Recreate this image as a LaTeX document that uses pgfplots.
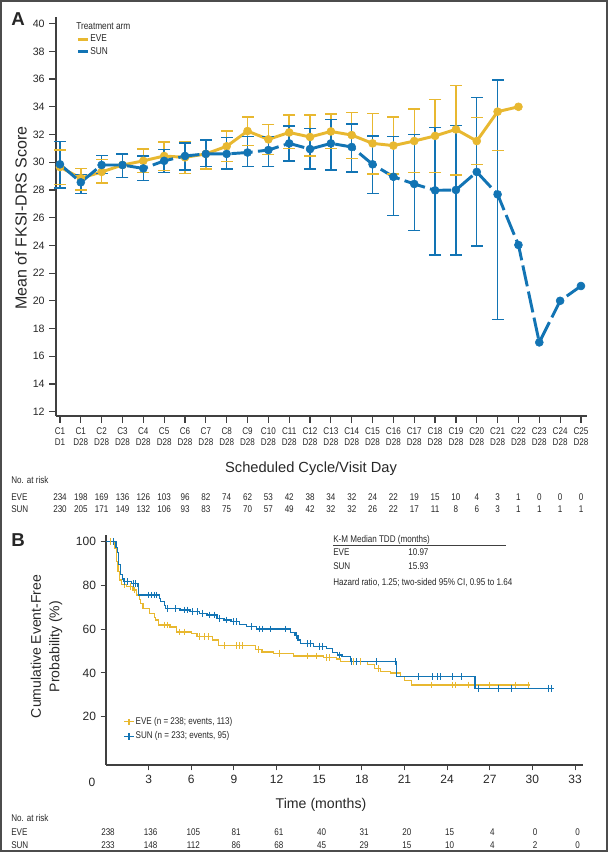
\documentclass[border=0pt]{standalone}
\usepackage{fontspec}
\setmainfont{Liberation Sans}
\newfontfamily\cond{Liberation Sans}[FakeStretch=0.83]
\usepackage{pgfplots}
\pgfplotsset{compat=1.18}
\usepackage{pgfplotstable}
\definecolor{cyel}{RGB}{232,184,48}
\definecolor{cblue}{RGB}{18,116,180}
\definecolor{txt}{RGB}{40,40,40}

\pgfplotstableread{
i m lo hi
0 29.65 28.4 30.88
1 28.85 28.0 29.55
2 29.3 28.5 30.2
3 29.8 28.9 30.6
4 30.1 29.25 30.95
5 30.45 29.4 31.45
6 30.35 29.2 31.5
7 30.6 29.5 31.65
8 31.15 30.05 32.25
9 32.25 31.2 33.25
10 31.65 30.57 32.73
11 32.15 31.0 33.4
12 31.82 30.45 33.4
13 32.22 31.0 33.47
14 31.96 30.27 33.6
15 31.36 29.15 33.53
16 31.2 29.15 33.26
17 31.53 29.27 33.84
18 31.9 29.27 34.54
19 32.37 29.08 35.55
20 31.53 29.82 33.24
21 33.65 30.83 35.93
}\eveci
\pgfplotstableread{
i m
0 29.65
1 28.85
2 29.3
3 29.8
4 30.1
5 30.45
6 30.35
7 30.6
8 31.15
9 32.25
10 31.65
11 32.15
12 31.82
13 32.22
14 31.96
15 31.36
16 31.2
17 31.53
18 31.9
19 32.37
20 31.53
21 33.65
22 34.0
}\eveline
\pgfplotstableread{
i m lo hi
0 29.85 28.15 31.5
1 28.55 27.75 29.1
2 29.8 29.2 30.5
3 29.8 28.9 30.6
4 29.55 28.7 30.45
5 30.1 29.25 30.9
6 30.45 29.45 31.4
7 30.6 29.7 31.6
8 30.6 29.5 31.8
9 30.7 29.7 31.85
10 30.88 29.7 31.85
11 31.36 30.1 32.6
12 30.95 29.5 32.45
13 31.36 29.44 33.1
14 31.1 29.3 32.76
15 29.85 27.75 31.88
16 28.95 26.14 31.85
17 28.43 25.06 32.0
18 27.97 23.3 32.5
19 28.0 23.3 32.66
20 29.3 23.95 34.66
21 27.68 18.67 35.93
}\sunci
\pgfplotstableread{
i m
0 29.85
1 28.55
2 29.8
3 29.8
4 29.55
5 30.1
6 30.45
7 30.6
8 30.6
9 30.7
10 30.88
11 31.36
12 30.95
13 31.36
14 31.1
15 29.85
16 28.95
17 28.43
18 27.97
19 28.0
20 29.3
21 27.68
22 24.03
23 17.0
24 20.0
25 21.07
}\sunline

\begin{document}
\begin{tikzpicture}[x=0.75pt,y=0.75pt]
\useasboundingbox (0,0) rectangle (608,852);
\fill[white] (0,0) rectangle (608,852);
\draw[black!70, line width=1.4pt] (0.9,0.9) rectangle (607.1,851.1);

% ---------------- Panel A ----------------
\begin{axis}[
  at={(42pt,327pt)}, anchor=south west,
  scale only axis, width=398.25pt, height=299.25pt,
  xmin=-0.19, xmax=25.29, ymin=11.69, ymax=40.48,
  axis x line*=bottom, axis y line*=left,
  axis line style={line width=1.3pt, black!75},
  xtick={0,...,25},
  xticklabels={{C1\\D1},{C1\\D28},{C2\\D28},{C3\\D28},{C4\\D28},{C5\\D28},{C6\\D28},{C7\\D28},{C8\\D28},{C9\\D28},{C10\\D28},{C11\\D28},{C12\\D28},{C13\\D28},{C14\\D28},{C15\\D28},{C16\\D28},{C17\\D28},{C18\\D28},{C19\\D28},{C20\\D28},{C21\\D28},{C22\\D28},{C23\\D28},{C24\\D28},{C25\\D28}},
  ytick={12,14,...,40},
  tick align=outside, major tick length=5pt,
  tick style={line width=0.9pt, black!75},
  xticklabel style={font=\cond\fontsize{7.3}{8.6}\selectfont, align=center, text=txt},
  yticklabel style={font=\fontsize{8}{9}\selectfont, text=txt},
  /pgf/number format/assume math mode=true,
  clip=false,
  legend style={at={(0.0377,0.958)}, anchor=north west, draw=none, fill=none,
    font=\cond\fontsize{7.5}{9}\selectfont, text=txt, inner sep=0pt, row sep=1pt,
    nodes={inner sep=0.8pt}},
  legend cell align=left,
  legend image code/.code={\draw[#1] (0pt,0pt) -- (7.5pt,0pt);},
]
\addlegendimage{cyel, line width=2.2pt}
\addlegendentry{EVE}
\addlegendimage{cblue, line width=2.2pt}
\addlegendentry{SUN}

% EVE confidence bars
\addplot[forget plot, cyel, only marks, mark=*, mark size=0.05pt,
  error bars/.cd, y dir=both, y explicit, error mark=none,
  error bar style={draw=cyel, line width=1.1pt, solid}]
  table[x=i, y=m, y error plus expr=\thisrow{hi}-\thisrow{m}, y error minus expr=\thisrow{m}-\thisrow{lo}] {\eveci};
\addplot[forget plot, only marks, mark=-, mark size=4.5pt, mark options={draw=cyel, line width=1.1pt}]
  table[x=i, y=hi] {\eveci};
\addplot[forget plot, only marks, mark=-, mark size=4.5pt, mark options={draw=cyel, line width=1.1pt}]
  table[x=i, y=lo] {\eveci};
% SUN confidence bars
\addplot[forget plot, cblue, only marks, mark=*, mark size=0.05pt,
  error bars/.cd, y dir=both, y explicit, error mark=none,
  error bar style={draw=cblue, line width=1.1pt, solid}]
  table[x=i, y=m, y error plus expr=\thisrow{hi}-\thisrow{m}, y error minus expr=\thisrow{m}-\thisrow{lo}] {\sunci};
\addplot[forget plot, only marks, mark=-, mark size=4.5pt, mark options={draw=cblue, line width=1.1pt}]
  table[x=i, y=hi] {\sunci};
\addplot[forget plot, only marks, mark=-, mark size=4.5pt, mark options={draw=cblue, line width=1.1pt}]
  table[x=i, y=lo] {\sunci};

\addplot[forget plot, cyel, line width=2.2pt, mark=*, mark size=3pt, mark options={solid, fill=cyel, line width=0.4pt}]
  table[x=i, y=m] {\eveline};
\addplot[forget plot, cblue, line width=2.2pt, dash pattern=on 16pt off 4pt, mark=*, mark size=3pt, mark options={solid, fill=cblue, line width=0.4pt}]
  table[x=i, y=m] {\sunline};
\end{axis}

% ---------------- Panel B ----------------
\begin{axis}[
  at={(79.5pt,65.25pt)}, anchor=south west,
  scale only axis, width=357.75pt, height=172.5pt,
  xmin=0, xmax=33.56, ymin=-2.1, ymax=103.1,
  axis x line*=bottom, axis y line*=left,
  axis line style={line width=1.1pt, black!75},
  xtick={3,6,...,33}, ytick={20,40,...,100},
  tick align=outside, major tick length=4pt,
  tick style={line width=0.8pt, black!75},
  ticklabel style={font=\fontsize{9}{10}\selectfont, text=txt},
  /pgf/number format/assume math mode=true,
  clip=false,
  legend style={at={(0.036,0.213)}, anchor=north west, draw=none, fill=none,
    font=\cond\fontsize{7.3}{8.5}\selectfont, text=txt, inner sep=0pt, row sep=2.5pt,
    nodes={inner sep=0.8pt}},
  legend cell align=left,
  legend image code/.code={\draw[#1] (0pt,0pt) -- (7.5pt,0pt); \draw[#1] (3.75pt,-2.5pt) -- (3.75pt,2.5pt);},
]
\addlegendimage{cyel, line width=0.9pt}
\addlegendentry{EVE (n = 238; events, 113)}
\addlegendimage{cblue, line width=0.9pt}
\addlegendentry{SUN (n = 233; events, 95)}

\addplot[forget plot, const plot, cyel, line width=1pt] coordinates {
(0,100)(0.6,97)(0.75,91)(0.85,86.5)(0.95,82.5)(1.1,80.5)(1.45,79.4)(1.9,77.9)(2.15,75.6)(2.35,73.5)(2.45,71.8)(2.6,69.5)(3.05,67.3)(3.4,65.5)(3.5,64.2)(3.7,61.9)(4.5,61)(4.95,58.8)(6.0,58.1)(6.4,56.6)(7.5,55.1)(7.9,52.5)(10.5,50.8)(10.97,49.6)(11.8,49)(13.2,47.7)(15.3,47)(16.2,46.4)(16.5,45.1)(18.4,43.9)(18.9,42.1)(19.3,40.6)(20.0,40)(20.7,38.3)(21.0,36.5)(21.5,34.5)(29.8,34.5)};
\addplot[forget plot, const plot, cblue, line width=1pt] coordinates {
(0,100)(0.7,97.5)(0.8,95)(0.9,89.5)(1.0,85)(1.15,83)(1.25,81.7)(1.8,80.9)(2.2,79.4)(2.3,75.6)(3.75,74)(3.85,72.6)(4.1,71)(4.2,69.5)(5.2,68.8)(5.9,68)(6.6,67.3)(7.1,66.5)(7.8,65)(8.3,64.2)(8.8,63.4)(9.4,62.2)(9.9,61.1)(10.6,60.1)(13.0,58.5)(13.3,57)(13.5,55)(13.7,53.5)(14.6,52.2)(15.5,51.3)(15.93,49.5)(16.3,48.2)(16.6,47.4)(17.2,45.1)(20.45,38.3)(25.95,33)(31.5,33)};
\addplot[forget plot, only marks, mark=|, mark size=2.5pt, cyel, line width=0.7pt] coordinates {
(0.3,100)(1.3,80.5)(1.7,79.4)(2.0,77.9)(4.1,61.9)(4.3,61.9)(5.2,58.8)(5.5,58.8)(6.6,56.6)(6.9,56.6)(7.2,56.6)(8.3,52.5)(9.2,52.5)(9.4,52.5)(9.6,52.5)(10.7,50.8)(12.2,49)(14.2,47.7)(14.8,47.7)(15.5,47)(15.7,47)(17.4,45.1)(17.6,45.1)(17.9,45.1)(19.2,42.1)(22.9,34.5)(24.4,34.5)(24.6,34.5)(25.5,34.5)(27.0,34.5)(28.8,34.5)(29.75,34.5)};
\addplot[forget plot, only marks, mark=|, mark size=2.5pt, cblue, line width=0.7pt] coordinates {
(0.5,100)(1.3,81.7)(1.5,81.7)(1.9,80.9)(2.05,80.9)(2.25,79.4)(3.0,75.6)(3.2,75.6)(3.4,75.6)(3.55,75.6)(4.35,69.5)(4.9,69.5)(5.5,68.8)(5.7,68.8)(6.1,68)(6.4,68)(6.8,67.3)(7.3,66.5)(7.6,66.5)(8.0,65)(8.5,64.2)(9.0,63.4)(9.2,63.4)(10.2,61.1)(10.8,60.1)(11.0,60.1)(11.6,60.1)(12.6,60.1)(13.4,57)(14.2,53.5)(14.4,53.5)(15.0,52.2)(15.2,52.2)(16.4,48.2)(17.3,45.1)(17.6,45.1)(19.0,45.1)(20.4,45.1)(22.0,38.3)(23.0,38.3)(23.3,38.3)(23.5,38.3)(24.4,38.3)(25.0,38.3)(26.2,33)(27.6,33)(28.5,33)(31.1,33)(31.35,33)};
\end{axis}

% ---------------- Texts ----------------
\node[font=\bfseries\fontsize{14}{16}\selectfont, text=black!85] at (18,832.5) {A};
\node[font=\bfseries\fontsize{14}{16}\selectfont, text=black!85] at (18,311.5) {B};
\node[rotate=90, font=\fontsize{12}{14}\selectfont, text=txt] at (21,634) {Mean of FKSI-DRS Score};
\node[font=\fontsize{11}{13}\selectfont, text=txt] at (311,383) {Scheduled Cycle/Visit Day};
\node[anchor=west, font=\cond\fontsize{7.5}{9}\selectfont, text=txt, inner sep=0pt] at (76,826) {Treatment arm};

\begin{scope}[every node/.style={font=\cond\fontsize{7.3}{8.5}\selectfont, text=txt, inner sep=0pt}]
\node[anchor=west] at (11,372) {No. at risk};
\node[anchor=west] at (11,354.5) {EVE};
\node[anchor=west] at (11,343) {SUN};
\foreach \v [count=\i from 0] in {234,198,169,136,126,103,96,82,74,62,53,42,38,34,32,24,22,19,15,10,4,3,1,0,0,0}
  \node at ({60+20.84*\i},354.5) {\v};
\foreach \v [count=\i from 0] in {230,205,171,149,132,106,93,83,75,70,57,49,42,32,32,26,22,17,11,8,6,3,1,1,1,1}
  \node at ({60+20.84*\i},343) {\v};

\node[anchor=west] at (11,34) {No. at risk};
\node[anchor=west] at (11,19.5) {EVE};
\node[anchor=west] at (11,6.5) {SUN};
\foreach \v [count=\i from 0] in {238,136,105,81,61,40,31,20,15,4,0,0}
  \node at ({108+42.7*\i},19.5) {\v};
\foreach \v [count=\i from 0] in {233,148,112,86,68,45,29,15,10,4,2,0}
  \node at ({108+42.7*\i},6.5) {\v};

\node[anchor=west] at (333,312) {K-M Median TDD (months)};
\node[anchor=west] at (333,300) {EVE};
\node[anchor=west] at (408,300) {10.97};
\node[anchor=west] at (333,286) {SUN};
\node[anchor=west] at (408,286) {15.93};
\node[anchor=west] at (333,269) {Hazard ratio, 1.25; two-sided 95\% CI, 0.95 to 1.64};
\end{scope}
\draw[black!75, line width=0.6pt] (333,306.5) -- (506,306.5);

\node[font=\fontsize{9}{10}\selectfont, text=txt] at (92,70) {0};
\node[rotate=90, align=center, font=\fontsize{10.5}{13.9}\selectfont, text=txt] at (46.5,205.5) {Cumulative Event-Free\\Probability (\%)};
\node[font=\fontsize{10.6}{12}\selectfont, text=txt] at (321,47) {Time (months)};
\end{tikzpicture}
\end{document}
